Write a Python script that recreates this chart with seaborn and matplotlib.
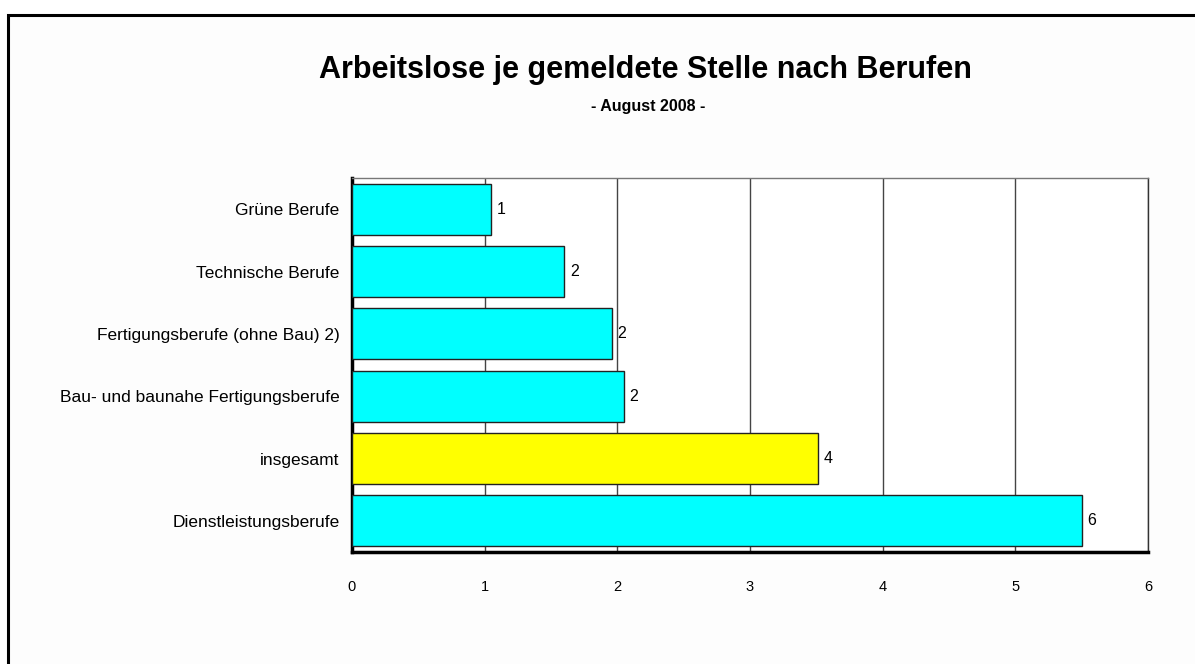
import numpy as np
import pandas as pd
import seaborn as sns
import matplotlib.pyplot as plt
from matplotlib.patches import Rectangle

sns.set_style("white")
plt.rcParams['font.family'] = ['Liberation Sans', 'DejaVu Sans']
plt.rcParams['text.color'] = 'black'
plt.rcParams['xtick.color'] = 'black'
plt.rcParams['ytick.color'] = 'black'

berufe = ['Grüne Berufe', 'Technische Berufe', 'Fertigungsberufe (ohne Bau) 2)',
          'Bau- und baunahe Fertigungsberufe', 'insgesamt', 'Dienstleistungsberufe']
werte = [1.05, 1.6, 1.96, 2.05, 3.51, 5.5]
farben = ['#00FFFF', '#00FFFF', '#00FFFF', '#00FFFF', '#FFFF00', '#00FFFF']

df = pd.DataFrame({'beruf': berufe, 'wert': werte})

fig = plt.figure(figsize=(11.95, 6.64), dpi=100)
fig.patch.set_facecolor('white')

# outer frame (open at right and bottom, as in the source)
rahmen = Rectangle((8 / 1195, -0.1), 1.2, 1.1 - 15 / 664, transform=fig.transFigure,
                   facecolor='#fdfdfd', edgecolor='black', linewidth=2.2, zorder=-10)
fig.patches.append(rahmen)

ax = fig.add_axes([352 / 1195, 1 - 552 / 664, 796 / 1195, 374 / 664])
ax.set_zorder(5)
sns.barplot(data=df, y='beruf', x='wert', hue='beruf', palette=farben, legend=False,
            orient='h', width=0.82, saturation=1, edgecolor='#222222', linewidth=1,
            ax=ax, zorder=3)

ax.set_facecolor('white')
ax.set_xlim(0, 6)
ax.set_xticks(range(7))
ax.xaxis.grid(True, color='#444444', linewidth=1)
ax.set_axisbelow(True)
ax.set_xlabel('')
ax.set_ylabel('')
ax.tick_params(axis='x', length=0, pad=20, labelsize=10.5)
ax.tick_params(axis='y', length=0, pad=9, labelsize=12.5)

ax.spines['left'].set_linewidth(2.5)
ax.spines['bottom'].set_linewidth(2.5)
ax.spines['left'].set_color('black')
ax.spines['bottom'].set_color('black')
ax.spines['top'].set_color('#777777')
ax.spines['top'].set_linewidth(1)
ax.spines['right'].set_color('#333333')
ax.spines['right'].set_linewidth(1)

for cont in ax.containers:
    ax.bar_label(cont, labels=[f"{int(np.floor(v + 0.5))}" for v in cont.datavalues],
                 padding=4, fontsize=11.5)

fig.text(645 / 1195, 1 - 70 / 664, 'Arbeitslose je gemeldete Stelle nach Berufen',
         ha='center', va='center', fontsize=22, fontweight='bold')
fig.text(648 / 1195, 1 - 106 / 664, '- August 2008 -', ha='center', va='center',
         fontsize=11.5, fontweight='bold')

fig.savefig('out.png', dpi=100)
